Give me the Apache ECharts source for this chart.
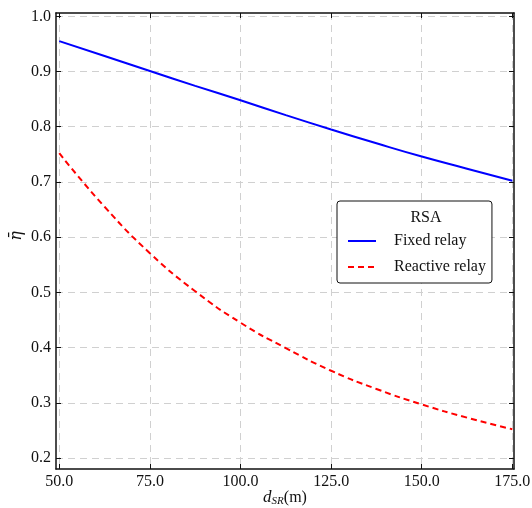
<!DOCTYPE html>
<html lang="en" style="height: 100%">

<head>
  <meta charset="utf-8">
</head>

<body style="height: 100%; margin: 0; background: #fff">
  <div id="container" style="width: 532px; height: 508px"></div>

  <script type="text/javascript" src="https://cdn.jsdelivr.net/npm/echarts@6/dist/echarts.min.js"></script>

  <script type="text/javascript">
    // distances d_SR (m)
    var dSR = [50, 62.5, 75, 87.5, 100, 112.5, 125, 137.5, 150, 162.5, 175];
    var fixedRelay = [0.955, 0.928, 0.901, 0.874, 0.848, 0.821, 0.795, 0.770, 0.746, 0.724, 0.702];
    var reactiveRelay = [0.752, 0.655, 0.571, 0.502, 0.445, 0.399, 0.358, 0.325, 0.297, 0.273, 0.252];
    var xTicks = [50, 75, 100, 125, 150, 175];
    var yTicks = [0.2, 0.3, 0.4, 0.5, 0.6, 0.7, 0.8, 0.9, 1.0];

    var FONT = 'Liberation Serif';
    var dom = document.getElementById('container');
    var myChart = echarts.init(dom, null, { renderer: 'canvas' });

    function pairs(ys) {
      return dSR.map(function (x, i) { return [x, ys[i]]; });
    }

    var frame = { show: true, lineStyle: { color: '#111', width: 1.5 } };
    var gridLine = { show: true, lineStyle: { color: '#d0d0d0', type: [7, 5], width: 1 } };

    var option = {
      animation: false,
      backgroundColor: '#fff',
      grid: { left: 56, right: 18, top: 13, bottom: 39, outerBoundsMode: 'none', containLabel: false },
      title: {
        text: 'RSA',
        left: 421,
        top: 205,
        textAlign: 'center',
        textStyle: { fontFamily: FONT, fontSize: 16, fontWeight: 'normal', color: '#111' }
      },
      legend: {
        left: 337,
        top: 201,
        orient: 'vertical',
        icon: 'inherit',
        itemStyle: { opacity: 0 },
        backgroundColor: '#fff',
        borderColor: '#111',
        borderWidth: 1,
        borderRadius: 3,
        padding: [32, 6, 8, 10],
        itemWidth: 28,
        itemHeight: 14,
        itemGap: 10,
        textStyle: { fontFamily: FONT, fontSize: 16, color: '#111', padding: [0, 0, 0, 13] },
        data: ['Fixed relay', 'Reactive relay']
      },
      xAxis: [
        {
          type: 'value',
          min: 49.1,
          max: 175.45,
          name: '{d|d}{s|SR}{n|(m)}',
          nameLocation: 'middle',
          nameGap: 20,
          nameMoveOverlap: false,
          nameTextStyle: {
            rich: {
              d: { fontFamily: FONT, fontSize: 17, fontStyle: 'italic', color: '#111' },
              s: { fontFamily: FONT, fontSize: 11, fontStyle: 'italic', color: '#111', verticalAlign: 'bottom', padding: [7, 0, 0, 0] },
              n: { fontFamily: FONT, fontSize: 16, color: '#111' }
            }
          },
          axisLine: frame,
          axisTick: { show: true, inside: true, length: 5, customValues: xTicks, lineStyle: { color: '#111' } },
          axisLabel: {
            customValues: xTicks,
            margin: 5,
            fontFamily: FONT,
            fontSize: 16,
            color: '#111',
            formatter: function (v) { return v.toFixed(1); }
          },
          splitLine: gridLine
        },
        {
          type: 'value',
          position: 'top',
          min: 49.1,
          max: 175.45,
          axisLine: frame,
          axisTick: { show: true, inside: true, length: 5, customValues: xTicks, lineStyle: { color: '#111' } },
          axisLabel: { show: false },
          splitLine: { show: false }
        }
      ],
      yAxis: [
        {
          type: 'value',
          min: 0.18,
          max: 1.006,
          name: 'η̄',
          nameLocation: 'middle',
          nameGap: 31,
          nameMoveOverlap: false,
          nameTextStyle: { fontFamily: 'DejaVu Serif', fontSize: 16, fontStyle: 'italic', color: '#111', padding: [0, 0, 0, 10] },
          axisLine: frame,
          axisTick: { show: true, inside: true, length: 5, customValues: yTicks, lineStyle: { color: '#111' } },
          axisLabel: {
            customValues: yTicks,
            margin: 5,
            fontFamily: FONT,
            fontSize: 16,
            color: '#111',
            formatter: function (v) { return v.toFixed(1); }
          },
          splitLine: gridLine
        },
        {
          type: 'value',
          position: 'right',
          min: 0.18,
          max: 1.006,
          axisLine: frame,
          axisTick: { show: true, inside: true, length: 5, customValues: yTicks, lineStyle: { color: '#111' } },
          axisLabel: { show: false },
          splitLine: { show: false }
        }
      ],
      series: [
        {
          name: 'Fixed relay',
          type: 'line',
          data: pairs(fixedRelay),
          smooth: true,
          symbol: 'none',
          lineStyle: { color: '#0000ff', width: 2 },
          itemStyle: { color: '#0000ff' }
        },
        {
          name: 'Reactive relay',
          type: 'line',
          data: pairs(reactiveRelay),
          smooth: true,
          symbol: 'none',
          lineStyle: { color: '#ff0000', width: 2, type: [6, 4] },
          itemStyle: { color: '#ff0000' }
        }
      ]
    };

    myChart.setOption(option);
    window.addEventListener('resize', myChart.resize);
  </script>
</body>

</html>
